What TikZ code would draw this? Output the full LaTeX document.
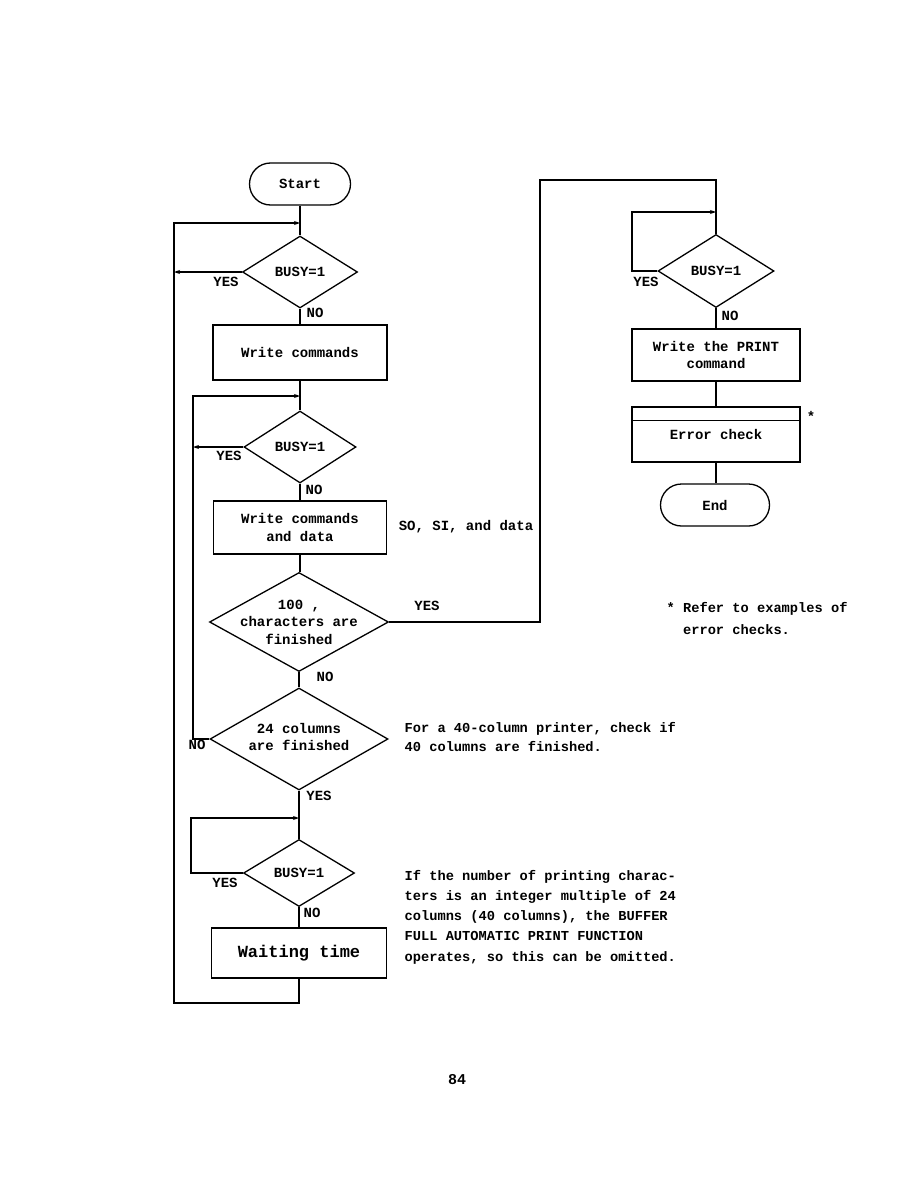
\documentclass[tikz,border=0pt]{standalone}
\usepackage{fontspec}
\setmainfont{Liberation Mono}
\usetikzlibrary{shapes.geometric,arrows.meta}
\newcommand\fs{\fontsize{14}{17.5}\selectfont}
\begin{document}
\begin{tikzpicture}[x=1pt,y=-1pt, font=\fs\bfseries, line width=1.3pt,
  box/.style={draw, rectangle, inner sep=0pt, align=center},
  term/.style={draw, rectangle, rounded corners=21pt, inner sep=0pt, minimum height=42pt},
  dia/.style={draw, diamond, inner sep=0pt},
  lbl/.style={inner sep=0pt},
  arr/.style={-{Stealth[length=6pt,width=4pt]}},
  note/.style={anchor=west, align=left, inner sep=0pt}]
\useasboundingbox (0,0) rectangle (918,1188);
% left column
\node[term, minimum width=101pt] (start) at (300,184) {Start};
\node[dia, minimum width=115pt, minimum height=72pt, label={center:BUSY=1}] (d1) at (300,272) {};
\node[box, minimum width=174pt, minimum height=55pt] (wc) at (300,352.5) {Write commands};
\node[dia, minimum width=112pt, minimum height=72pt, label={center:BUSY=1}] (d2) at (300,447) {};
\node[box, minimum width=173pt, minimum height=53pt] (wcd) at (300,527.5) {Write commands\\and data};
\node[dia, minimum width=179pt, minimum height=99pt, label={[align=center]center:100 ,\\characters are\\finished}] (d3) at (299,622) {};
\node[dia, minimum width=178pt, minimum height=102pt, label={[align=center,yshift=2pt]center:24 columns\\are finished}] (d4) at (299,739) {};
\node[dia, minimum width=111pt, minimum height=67pt, label={center:BUSY=1}] (d5) at (299,873) {};
\node[box, minimum width=175pt, minimum height=50pt, font=\fontsize{17}{20}\selectfont\bfseries] (wait) at (299,953) {Waiting time};
% right column
\node[dia, minimum width=116pt, minimum height=73pt, label={center:BUSY=1}] (d6) at (716,271) {};
\node[box, minimum width=168pt, minimum height=52pt] (wp) at (716,355) {Write the PRINT\\command};
\node[box, minimum width=168pt, minimum height=55pt] (err) at (716,434.5) {\raisebox{-4.5pt}{Error check}};
\draw ([yshift=-14pt]err.north west) -- ([yshift=-14pt]err.north east);
\node[term, minimum width=109pt] (end) at (715,505) {End};
% coordinates
\coordinate (o1) at (174,1003);
\coordinate (o2) at (174,223);
\coordinate (p1) at (193,396);
\coordinate (q1) at (191,818);
\coordinate (r1) at (632,212);
\coordinate (y1) at (540,180);
% spine
\draw (start) -- (d1);
\draw (d1) -- (wc);
\draw (wc) -- (d2);
\draw (d2) -- (wcd);
\draw (wcd.south) -- (wcd.south |- d3.north);
\draw (d3) -- (d4);
\draw (d4) -- (d5);
\draw (d5) -- (wait);
\draw (d6) -- (wp);
\draw (wp) -- (err);
\draw (err.south) -- (err.south |- end.north);
% loops
\draw[arr] (wait.south) |- (o1) -- (o2) -- (o2 -| start.south);
\draw[arr] (d1.west) -- (d1.west -| o1);
\draw[arr] (d4.west) -| (p1) -- (p1 -| wc.south);
\draw[arr] (d2.west) -- (d2.west -| p1);
\draw[arr] (d5.west) -| (q1) -- (q1 -| d5.north);
\draw[arr] (d6.west) -| (r1) -- (r1 -| d6.north);
\draw (d3.east) -| (y1) -| (d6.north);
% labels
\node[lbl] (yes1) at (226,282) {YES};
\node[lbl] (no1) at (315,313) {NO};
\node[lbl] (yes2) at (229,456) {YES};
\node[lbl] (no2) at (314,490) {NO};
\node[lbl] (yes3) at (427,606) {YES};
\node[lbl] (no3) at (325,677) {NO};
\node[lbl] (no4) at (197,745) {NO};
\node[lbl] (yes4) at (319,796) {YES};
\node[lbl] (yes5) at (225,883) {YES};
\node[lbl] (no5) at (312,913) {NO};
\node[lbl] (yes6) at (646,282) {YES};
\node[lbl] (no6) at (730,316) {NO};
\node[lbl] (so) at (466,527) {SO, SI, and data};
\node[lbl] (star) at (811,416) {*};
% notes
\node[note, font=\fontsize{13.7}{19}\selectfont\bfseries] (n1) at (404,737) {For a 40-column printer, check if\\40 columns are finished.};
\node[note, font=\fontsize{13.7}{20.2}\selectfont\bfseries] (n2) at (404,917) {If the number of printing charac-\\ters is an integer multiple of 24\\columns (40 columns), the BUFFER\\FULL AUTOMATIC PRINT FUNCTION\\operates, so this can be omitted.};
\node[note, font=\fontsize{13.7}{22}\selectfont\bfseries] (n3) at (666,618) {* Refer to examples of\\\hspace*{1.2em}error checks.};
\node[lbl, font=\fontsize{15}{18}\selectfont\bfseries] (page) at (457,1080) {84};
\end{tikzpicture}
\end{document}
